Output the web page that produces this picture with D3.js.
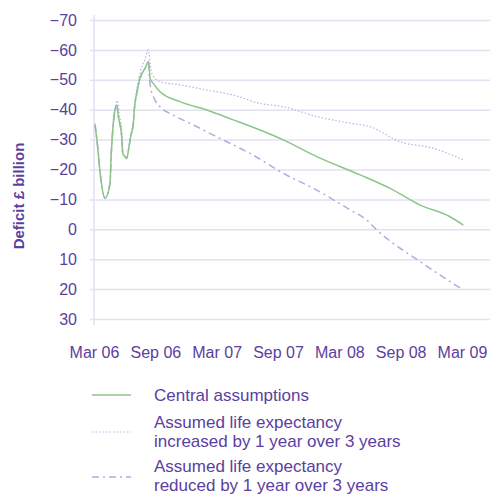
<!DOCTYPE html>
<html>
<head>
<meta charset="utf-8">
<script src="https://cdn.jsdelivr.net/npm/d3@7"></script>
<style>
  body { margin: 0; background: #fff; }
  text { font-family: Arial, "Liberation Sans", sans-serif; }
</style>
</head>
<body>
<div id="chart"></div>
<script>
// months counted from Mar 06
var xTicks = [0, 6, 12, 18, 24, 30, 36];
var xTickLabels = ["Mar 06", "Sep 06", "Mar 07", "Sep 07", "Mar 08", "Sep 08", "Mar 09"];
var yTicks = [-70, -60, -50, -40, -30, -20, -10, 0, 10, 20, 30];

var central = [
  [0.1, -34.9], [0.32, -28.8], [0.62, -18.2], [1.08, -10.4], [1.57, -15.4], [1.66, -23.2],
  [1.79, -31.0], [1.96, -37.7], [2.22, -41.6], [2.38, -37.7], [2.71, -31.0], [2.81, -25.4],
  [3.03, -24.3], [3.2, -23.7], [3.42, -27.6], [3.59, -31.0], [3.85, -35.5], [3.94, -39.9],
  [4.18, -45.5], [4.5, -50.5], [4.99, -53.8], [5.35, -56.1], [5.48, -50.5], [5.8, -48.8],
  [6.46, -46.0], [8.41, -42.7], [11.03, -39.9], [13.63, -36.6], [16.24, -33.2], [18.52, -29.9],
  [21.79, -24.3], [26.03, -18.2], [28.96, -13.7], [31.9, -8.1], [34.83, -4.2], [36.13, -1.4]
];

var increased = [
  [0.1, -35.5], [0.32, -29.5], [0.62, -18.5], [1.08, -10.6], [1.57, -15.8], [1.66, -24.0],
  [1.79, -32.0], [1.96, -39.0], [2.3, -43.0], [2.45, -39.0], [2.75, -31.5], [2.85, -25.6],
  [3.05, -24.3], [3.2, -23.8], [3.45, -28.0], [3.62, -32.0], [3.9, -37.0], [4.0, -42.0],
  [4.25, -48.0], [4.55, -53.0], [5.0, -57.0], [5.3, -60.0], [5.65, -52.2], [6.43, -49.4],
  [8.41, -48.3], [11.03, -46.6], [13.63, -44.9], [16.24, -42.1], [18.52, -41.0], [21.79, -37.7],
  [25.05, -35.5], [27.01, -34.3], [29.94, -29.3], [33.2, -27.1], [36.13, -23.2]
];

var reduced = [
  [0.1, -34.9], [0.32, -28.8], [0.62, -18.2], [1.08, -10.4], [1.57, -15.4], [1.66, -23.2],
  [1.79, -31.0], [1.96, -37.7], [2.22, -41.6], [2.38, -37.7], [2.71, -31.0], [2.81, -25.4],
  [3.03, -24.3], [3.2, -23.7], [3.42, -27.6], [3.59, -31.0], [3.85, -35.5], [3.94, -39.9],
  [4.18, -45.5], [4.5, -50.5], [4.99, -53.8], [5.3, -55.5], [5.5, -48.0], [5.97, -43.2],
  [6.46, -41.0], [7.76, -38.2], [9.72, -34.9], [11.67, -31.5], [14.29, -27.1], [15.26, -25.4],
  [18.52, -18.7], [21.79, -13.1], [25.05, -6.5], [26.68, -3.1], [27.66, 0.2], [31.9, 10.8],
  [36.13, 20.3]
];

var purple = "#5b40a0",
    grid = "#e3e0f0";

var svg = d3.select("#chart").append("svg").attr("width", 490).attr("height", 497);

var xScale = d3.scaleLinear().domain([0, 36]).range([94, 462]);
var yScale = d3.scaleLinear().domain([-70, 30]).range([20, 319]);

// gridlines + y labels
var yAxis = svg.append("g")
   .attr("transform", "translate(90,0)")
   .call(d3.axisLeft(yScale).tickValues(yTicks).tickSize(-400).tickPadding(13));
yAxis.select(".domain").remove();
yAxis.selectAll(".tick line").attr("stroke", grid).attr("stroke-width", 1.5);
yAxis.selectAll(".tick text")
   .attr("fill", purple)
   .attr("font-size", "16px")
   .attr("font-family", "Arial, 'Liberation Sans', sans-serif");

svg.append("line")
   .attr("x1", 94).attr("x2", 94)
   .attr("y1", 15).attr("y2", 325)
   .attr("stroke", grid).attr("stroke-width", 1.5);

var xAxis = svg.append("g")
   .attr("transform", "translate(0,340)")
   .call(d3.axisBottom(xScale).tickValues(xTicks).tickSize(0)
     .tickFormat(function(d, i) { return xTickLabels[i]; }));
xAxis.select(".domain").remove();
xAxis.selectAll(".tick text")
   .attr("y", 18).attr("dy", 0)
   .attr("fill", purple)
   .attr("font-size", "16px")
   .attr("font-family", "Arial, 'Liberation Sans', sans-serif");

svg.append("text")
   .attr("transform", "translate(24,196) rotate(-90)")
   .attr("text-anchor", "middle")
   .attr("font-size", "15px")
   .attr("font-weight", "bold")
   .attr("fill", purple)
   .text("Deficit £ billion");

var line = d3.line()
   .x(function(d) { return xScale(d[0]); })
   .y(function(d) { return yScale(d[1]); })
   .curve(d3.curveMonotoneX);

var series = [
  { data: increased, color: "#b8b2e2", width: 1.2, dash: "1.5,2" },
  { data: reduced, color: "#b1abe0", width: 1.5, dash: "7,4,2,4" },
  { data: central, color: "#8cc589", width: 1.5, dash: null }
];

series.forEach(function(s) {
  svg.append("path")
     .datum(s.data)
     .attr("fill", "none")
     .attr("stroke", s.color)
     .attr("stroke-width", s.width)
     .attr("stroke-dasharray", s.dash)
     .attr("d", line);
});

// legend
var legend = [
  { lines: ["Central assumptions"], y: 395, color: "#8cc589", width: 1.5, dash: null },
  { lines: ["Assumed life expectancy", "increased by 1 year over 3 years"], y: 432, color: "#b8b2e2", width: 1.2, dash: "1.5,2" },
  { lines: ["Assumed life expectancy", "reduced by 1 year over 3 years"], y: 477, color: "#b1abe0", width: 1.5, dash: "7,4,2,4" }
];
var legendBaselines = [[401], [427.5, 447], [471.5, 491]];

legend.forEach(function(l, i) {
  svg.append("line")
     .attr("x1", 92).attr("x2", 131)
     .attr("y1", l.y).attr("y2", l.y)
     .attr("stroke", l.color)
     .attr("stroke-width", l.width)
     .attr("stroke-dasharray", l.dash);
  l.lines.forEach(function(t, j) {
    svg.append("text")
       .attr("x", 154)
       .attr("y", legendBaselines[i][j])
       .attr("font-size", "17px")
       .attr("fill", purple)
       .text(t);
  });
});
</script>
</body>
</html>
